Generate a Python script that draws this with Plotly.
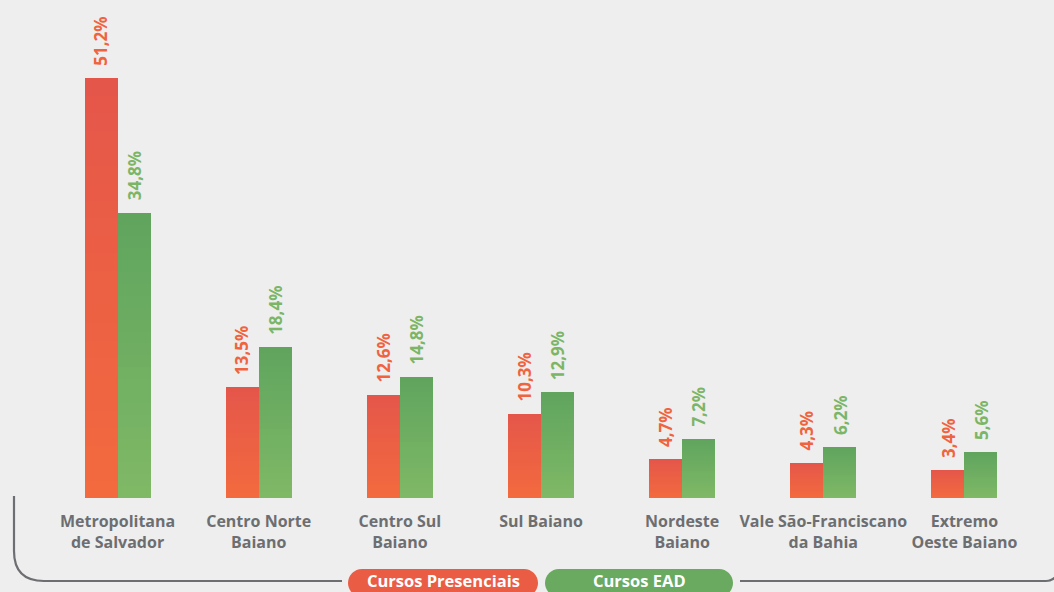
import plotly.graph_objects as go

categories = ["Metropolitana<br>de Salvador", "Centro Norte<br>Baiano", "Centro Sul<br>Baiano",
              "Sul Baiano", "Nordeste<br>Baiano", "Vale São-Franciscano<br>da Bahia", "Extremo<br>Oeste Baiano"]
presenciais = [51.2, 13.5, 12.6, 10.3, 4.7, 4.3, 3.4]
ead = [34.8, 18.4, 14.8, 12.9, 7.2, 6.2, 5.6]
series_names = ["Cursos Presenciais", "Cursos EAD"]

W, H = 1054, 592
ML, MR, MT, MB = 47, 19, 6, 94
BG = "#eeeeee"
GREY = "#6d6e71"
FONT = "Open Sans"

RED_TOP, RED_BOT = (229, 86, 74), (243, 106, 62)
GRN_TOP, GRN_BOT = (95, 164, 94), (128, 185, 102)
RED_TXT, GRN_TXT = "#f0633f", "#7bb566"

BW = 0.234
N = 24
x_idx = list(range(len(categories)))


def mix(c1, c2, t):
    return "rgb(%d,%d,%d)" % tuple(round(a + (b - a) * t) for a, b in zip(c1, c2))


fig = go.Figure()
for vals, top, bot, off in [(presenciais, RED_TOP, RED_BOT, -BW), (ead, GRN_TOP, GRN_BOT, 0.0)]:
    for k in range(N, 0, -1):
        f = k / N
        fig.add_trace(go.Bar(
            x=x_idx, y=[v * f for v in vals], width=BW, offset=off,
            marker=dict(color=mix(bot, top, (k - 0.5) / N), line=dict(width=0)),
            showlegend=False, hoverinfo="skip"))

for vals, col, off in [(presenciais, RED_TXT, -BW / 2), (ead, GRN_TXT, BW / 2)]:
    for i, v in enumerate(vals):
        fig.add_annotation(x=i + off, y=v, text="<b>" + f"{v:.1f}".replace(".", ",") + "%</b>",
                           textangle=-90, showarrow=False, yanchor="bottom", xanchor="center",
                           yshift=10, font=dict(family=FONT, size=17, color=col))


def px(x):
    return (x - ML) / (W - ML - MR)


def py(y):
    return (H - MB - y) / (H - MT - MB)


# bracket line
r = 30
left_path = (f"M {px(14)},{py(496)} L {px(14)},{py(581 - r)} "
             f"Q {px(14)},{py(581)} {px(14 + r)},{py(581)} L {px(342)},{py(581)}")
right_path = (f"M {px(740)},{py(581)} L {px(1046)},{py(581)} "
              f"Q {px(1054)},{py(581)} {px(1058)},{py(573)}")
for p in (left_path, right_path):
    fig.add_shape(type="path", path=p, xref="paper", yref="paper",
                  line=dict(color=GREY, width=2.2))


def pill(x0, x1, y0, y1, color):
    rr = (y1 - y0) / 2
    k = 0.55 * rr
    return (f"M {px(x0 + rr)},{py(y0)} L {px(x1 - rr)},{py(y0)} "
            f"C {px(x1 - rr + k)},{py(y0)} {px(x1)},{py(y0 + rr - k)} {px(x1)},{py(y0 + rr)} "
            f"C {px(x1)},{py(y1 - rr + k)} {px(x1 - rr + k)},{py(y1)} {px(x1 - rr)},{py(y1)} "
            f"L {px(x0 + rr)},{py(y1)} "
            f"C {px(x0 + rr - k)},{py(y1)} {px(x0)},{py(y1 - rr + k)} {px(x0)},{py(y0 + rr)} "
            f"C {px(x0)},{py(y0 + rr - k)} {px(x0 + rr - k)},{py(y0)} {px(x0 + rr)},{py(y0)} Z")


for (x0, x1, col), name in zip([(348, 538, "#eb5c44"), (545, 733, "#6aa960")], series_names):
    fig.add_shape(type="path", path=pill(x0, x1, 569, 597, col), xref="paper", yref="paper",
                  fillcolor=col, line=dict(width=0))
    fig.add_annotation(x=px((x0 + x1) / 2), y=py(594), xref="paper", yref="paper",
                       yanchor="bottom",
                       text=f"<b>{name}</b>", showarrow=False,
                       font=dict(family=FONT, size=16.5, color="white"))

fig.update_layout(
    width=W, height=H, paper_bgcolor=BG, plot_bgcolor=BG,
    margin=dict(l=ML, r=MR, t=MT, b=MB),
    barmode="overlay", bargap=0,
    xaxis=dict(range=[-0.5, len(categories) - 0.5], tickmode="array", tickvals=x_idx,
               ticktext=[f"<b>{c}</b>" for c in categories], showgrid=False, zeroline=False,
               showline=False, ticks="", ticklabelstandoff=12,
               tickfont=dict(family=FONT, size=16, color=GREY)),
    yaxis=dict(range=[0, 60], visible=False, showgrid=False, zeroline=False),
)

fig.write_html("out.html", config={"displayModeBar": False},
               post_script="document.body.style.margin='0';document.body.style.background='#eeeeee';")
